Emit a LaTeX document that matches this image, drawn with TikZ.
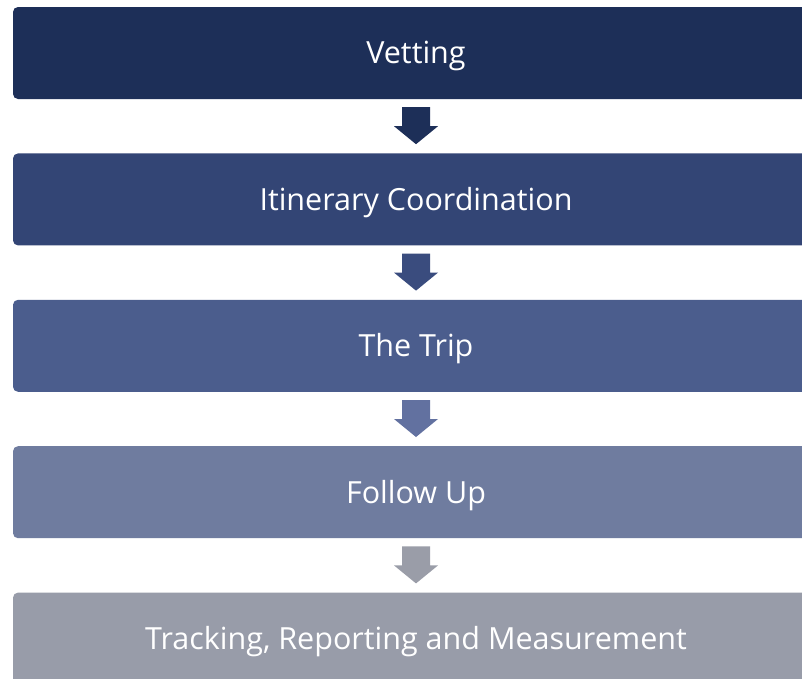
\documentclass[tikz,border=0pt]{standalone}
\usepackage{fontspec}
\setmainfont{Open Sans}
\usepackage{tikz}
\usetikzlibrary{positioning,calc}
\definecolor{lvlA}{HTML}{1D2F58}
\definecolor{lvlB}{HTML}{334575}
\definecolor{lvlC}{HTML}{4B5D8D}
\definecolor{lvlD}{HTML}{6F7C9F}
\definecolor{lvlE}{HTML}{989CA9}
\definecolor{arrB}{HTML}{3A4C7E}
\definecolor{arrC}{HTML}{6271A0}
\definecolor{arrD}{HTML}{9A9DA8}
\tikzset{
  stage/.style={rectangle,rounded corners=5pt,minimum width=806pt,minimum height=92pt,
    inner sep=0pt,text=white,text height=21.8pt,text depth=0pt,
    font=\fontsize{30.5}{36}\selectfont},
}

\begin{document}
\begin{tikzpicture}[node distance=54pt]
\clip (0,0) rectangle (802pt,-678pt);
\fill[white] (0,0) rectangle (802pt,-678pt);
% stages
\node[stage,fill=lvlA] (vet) at (416pt,-53pt) {Vetting};
\node[stage,fill=lvlB,below=of vet] (itin) {Itinerary Coordination};
\node[stage,fill=lvlC,below=of itin] (trip) {The Trip};
\node[stage,fill=lvlD,below=of trip] (follow) {Follow Up};
\node[stage,fill=lvlE,below=of follow] (track) {Tracking, Reporting and Measurement};
% block arrows between stages
\foreach \a/\b/\c in {vet/itin/lvlA, itin/trip/arrB, trip/follow/arrC, follow/track/arrD}{
  \fill[\c] ($(\a.south)+(-14pt,-8pt)$) -- ($(\a.south)+(14pt,-8pt)$)
    -- ($(\a.south)+(14pt,-27pt)$) -- ($(\a.south)+(22pt,-27pt)$)
    -- ($(\b.north)+(0,9pt)$)
    -- ($(\a.south)+(-22pt,-27pt)$) -- ($(\a.south)+(-14pt,-27pt)$) -- cycle;
}
\end{tikzpicture}
\end{document}
